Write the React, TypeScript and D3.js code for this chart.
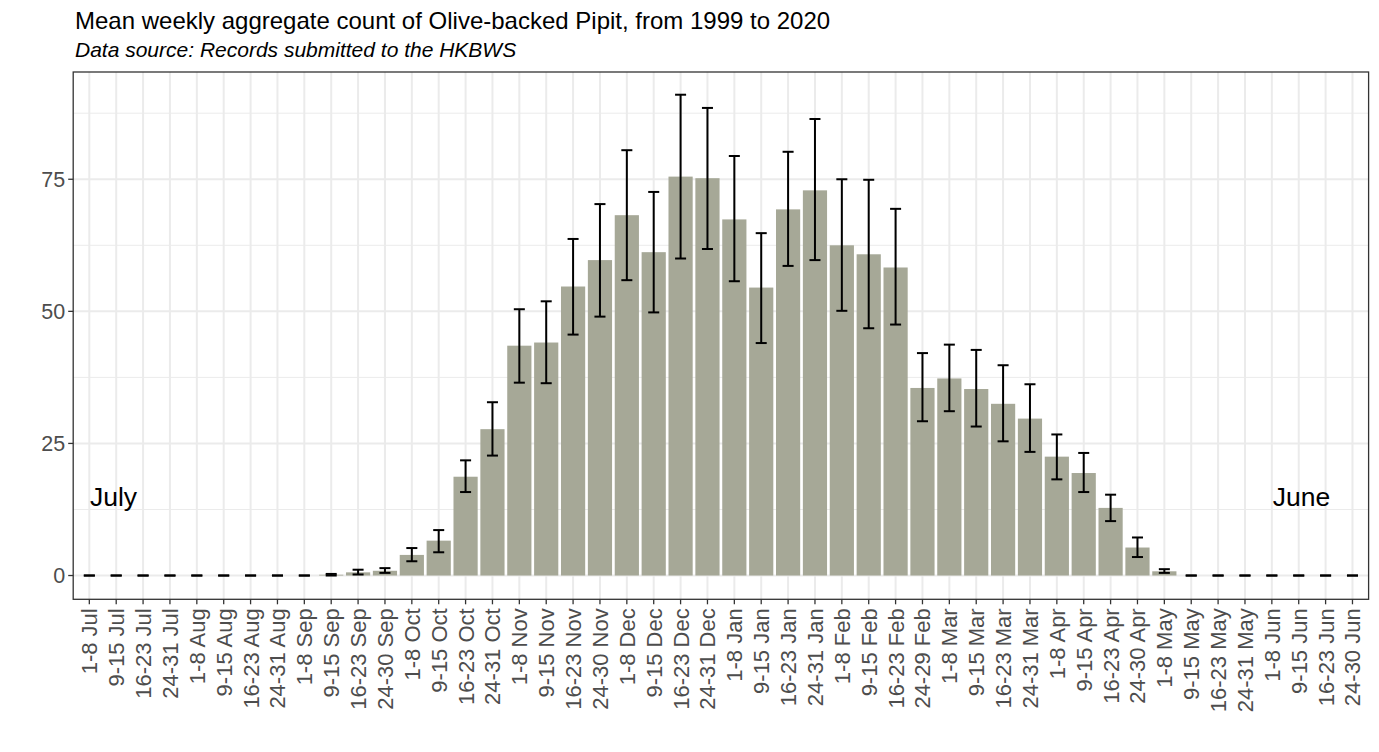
import React from "react";
import * as d3 from "d3";

const weeks: string[] = [
  "1-8 Jul", "9-15 Jul", "16-23 Jul", "24-31 Jul",
  "1-8 Aug", "9-15 Aug", "16-23 Aug", "24-31 Aug",
  "1-8 Sep", "9-15 Sep", "16-23 Sep", "24-30 Sep",
  "1-8 Oct", "9-15 Oct", "16-23 Oct", "24-31 Oct",
  "1-8 Nov", "9-15 Nov", "16-23 Nov", "24-30 Nov",
  "1-8 Dec", "9-15 Dec", "16-23 Dec", "24-31 Dec",
  "1-8 Jan", "9-15 Jan", "16-23 Jan", "24-31 Jan",
  "1-8 Feb", "9-15 Feb", "16-23 Feb", "24-29 Feb",
  "1-8 Mar", "9-15 Mar", "16-23 Mar", "24-31 Mar",
  "1-8 Apr", "9-15 Apr", "16-23 Apr", "24-30 Apr",
  "1-8 May", "9-15 May", "16-23 May", "24-31 May",
  "1-8 Jun", "9-15 Jun", "16-23 Jun", "24-30 Jun",
];

const meanCount: number[] = [
  0, 0, 0, 0, 0, 0, 0, 0, 0, 0.15, 0.6, 0.9,
  3.9, 6.6, 18.7, 27.7, 43.5, 44.1, 54.7, 59.7,
  68.2, 61.2, 75.5, 75.2, 67.4, 54.5, 69.3, 72.9,
  62.5, 60.8, 58.3, 35.5, 37.3, 35.3, 32.5, 29.7,
  22.5, 19.4, 12.8, 5.3, 0.8, 0, 0, 0, 0, 0, 0, 0,
];

const upper: number[] = [
  0, 0, 0, 0, 0, 0, 0, 0, 0, 0.3, 1.1, 1.4,
  5.2, 8.6, 21.8, 32.8, 50.4, 51.9, 63.7, 70.3,
  80.5, 72.6, 91.0, 88.5, 79.4, 64.8, 80.2, 86.4,
  75.0, 74.9, 69.4, 42.1, 43.7, 42.7, 39.8, 36.2,
  26.7, 23.2, 15.3, 7.2, 1.2, 0, 0, 0, 0, 0, 0, 0,
];

const lower: number[] = [
  0, 0, 0, 0, 0, 0, 0, 0, 0, 0, 0.2, 0.5,
  2.7, 4.4, 15.8, 22.7, 36.5, 36.4, 45.6, 49.0,
  55.9, 49.8, 60.0, 61.8, 55.7, 44.0, 58.6, 59.7,
  50.1, 46.8, 47.5, 29.2, 31.1, 28.2, 25.4, 23.4,
  18.2, 15.8, 10.3, 3.5, 0.5, 0, 0, 0, 0, 0, 0, 0,
];

const yTicks: number[] = [0, 25, 50, 75];
const yMinor: number[] = [12.5, 37.5, 62.5, 87.5];

// position in week units (0 = first week)
const monthLabels = [
  { pos: 0.9, value: 15, label: "July" },
  { pos: 45.1, value: 15, label: "June" },
];

const W = 1379;
const H = 752;
const panel = { left: 73.2, right: 1368.6, top: 72, bottom: 599.3 };
const FONT = "'Liberation Sans', Arial, Helvetica, sans-serif";

export default function App() {
  const x = d3
    .scalePoint<string>()
    .domain(weeks)
    .range([panel.left, panel.right])
    .padding(0.6);
  const step = x.step();
  const barW = step * 0.9;
  const whisker = step * 0.41;
  const y = d3.scaleLinear().domain([-4.5, 95.3]).range([panel.bottom, panel.top]);
  const xPos = (p: number) => (x(weeks[0]) as number) + p * step;

  return (
    <svg
      width={W}
      height={H}
      style={{ position: "absolute", left: 0, top: 0, background: "#fff" }}
      fontFamily={FONT}
    >
      <rect x={0} y={0} width={W} height={H} fill="#fff" />
      <text x={75} y={28.5} fontSize={24} fill="#000">
        Mean weekly aggregate count of Olive-backed Pipit, from 1999 to 2020
      </text>
      <text x={75} y={57} fontSize={21} fontStyle="italic" fill="#000">
        Data source: Records submitted to the HKBWS
      </text>

      {/* grid */}
      <g>
        {yMinor.map((v) => (
          <line key={"mi" + v} x1={panel.left} x2={panel.right} y1={y(v)} y2={y(v)} stroke="#ebebeb" strokeWidth={1} />
        ))}
        {yTicks.map((v) => (
          <line key={"ma" + v} x1={panel.left} x2={panel.right} y1={y(v)} y2={y(v)} stroke="#ebebeb" strokeWidth={2} />
        ))}
        {weeks.map((w) => (
          <line key={"v" + w} x1={x(w)} x2={x(w)} y1={panel.top} y2={panel.bottom} stroke="#ebebeb" strokeWidth={2} />
        ))}
      </g>

      {/* bars */}
      <g>
        {weeks.map((w, i) => (
          <rect
            key={"b" + w}
            x={(x(w) as number) - barW / 2}
            width={barW}
            y={y(Math.max(0, meanCount[i]))}
            height={Math.abs(y(0) - y(meanCount[i]))}
            fill="#a6a897"
          />
        ))}
      </g>

      {/* error bars */}
      <g stroke="#000" strokeWidth={2} fill="none">
        {weeks.map((w, i) => {
          const cx = x(w) as number;
          return (
            <g key={"e" + w}>
              <line x1={cx} x2={cx} y1={y(upper[i])} y2={y(lower[i])} />
              <line x1={cx - whisker / 2} x2={cx + whisker / 2} y1={y(upper[i])} y2={y(upper[i])} />
              <line x1={cx - whisker / 2} x2={cx + whisker / 2} y1={y(lower[i])} y2={y(lower[i])} />
            </g>
          );
        })}
      </g>

      {/* month annotations */}
      {monthLabels.map((m) => (
        <text
          key={m.label}
          x={xPos(m.pos)}
          y={y(m.value) + 9.5}
          fontSize={26.5}
          textAnchor="middle"
          fill="#000"
        >
          {m.label}
        </text>
      ))}

      {/* panel border */}
      <rect
        x={panel.left}
        y={panel.top}
        width={panel.right - panel.left}
        height={panel.bottom - panel.top}
        fill="none"
        stroke="#333"
        strokeWidth={1.3}
      />

      {/* y axis */}
      <g>
        {yTicks.map((v) => (
          <g key={"yt" + v}>
            <line x1={panel.left - 5} x2={panel.left} y1={y(v)} y2={y(v)} stroke="#333" strokeWidth={1.3} />
            <text x={panel.left - 8} y={y(v)} dy="0.36em" textAnchor="end" fontSize={21.5} fill="#4d4d4d">
              {v}
            </text>
          </g>
        ))}
      </g>

      {/* x axis */}
      <g>
        {weeks.map((w) => {
          const cx = x(w) as number;
          return (
            <g key={"xt" + w}>
              <line x1={cx} x2={cx} y1={panel.bottom} y2={panel.bottom + 5} stroke="#333" strokeWidth={1.3} />
              <text
                transform={`translate(${cx},${panel.bottom + 9}) rotate(-90)`}
                dy="0.36em"
                textAnchor="end"
                fontSize={22}
                fill="#4d4d4d"
              >
                {w}
              </text>
            </g>
          );
        })}
      </g>
    </svg>
  );
}
